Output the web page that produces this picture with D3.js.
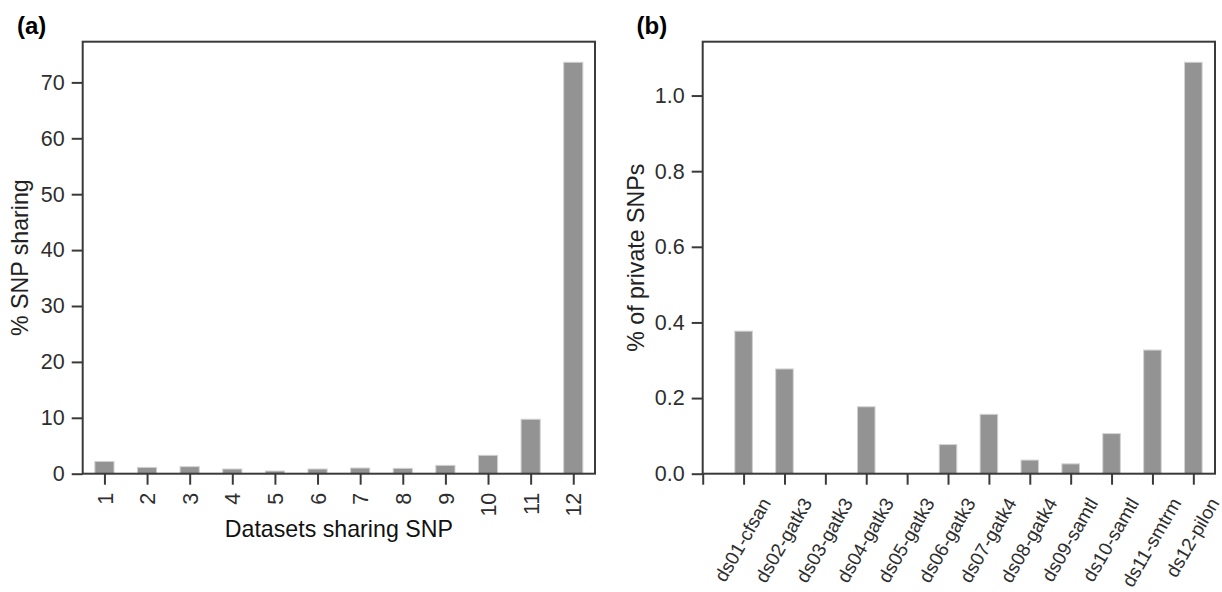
<!DOCTYPE html>
<html>
<head>
<meta charset="utf-8">
<script src="https://cdn.jsdelivr.net/npm/d3@7"></script>
<style>
  html, body { margin: 0; padding: 0; background: #fff; }
  svg { display: block; font-family: "Liberation Sans", Arial, Helvetica, sans-serif; }
</style>
</head>
<body>
<svg id="chart" width="1222" height="592"></svg>
<script>
// ---- Data ----
const sharingCategories = [1, 2, 3, 4, 5, 6, 7, 8, 9, 10, 11, 12];
const sharingValues = [2.2, 1.13, 1.26, 0.84, 0.48, 0.84, 1.02, 0.96, 1.49, 3.29, 9.74, 73.6];
const sharingYTicks = [0, 10, 20, 30, 40, 50, 60, 70];

const datasetNames = ["ds01-cfsan", "ds02-gatk3", "ds03-gatk3", "ds04-gatk3", "ds05-gatk3", "ds06-gatk3",
                      "ds07-gatk4", "ds08-gatk4", "ds09-samtl", "ds10-samtl", "ds11-smtrm", "ds12-pilon"];
const privateValues = [0.377, 0.277, 0, 0.177, 0, 0.077, 0.157, 0.036, 0.026, 0.106, 0.327, 1.088];
const privateYTicks = [0.0, 0.2, 0.4, 0.6, 0.8, 1.0];

// ---- Styling ----
const svg = d3.select("#chart");
const spineColor = "#3a3a3a";
const tickTextColor = "#2e2e2e";
const barFill = "#939393";
const barStroke = "#d2d2d2";
const tickFont = 21.5;
const labelFont = 23.2;

const plotTop = 41.7, plotBottom = 473.7;
const panelA = { left: 82.7, right: 595 };
const panelB = { left: 702.7, right: 1215 };

function frame(g, p) {
  g.append("rect")
    .attr("x", p.left).attr("y", plotTop)
    .attr("width", p.right - p.left).attr("height", plotBottom - plotTop)
    .attr("fill", "none").attr("stroke", spineColor).attr("stroke-width", 2);
}

function styleAxis(sel) {
  sel.select(".domain").remove();
  sel.selectAll(".tick line").attr("stroke", spineColor).attr("stroke-width", 2);
  sel.selectAll(".tick text").attr("fill", tickTextColor).style("font-size", tickFont + "px");
}

// ================= Panel (a) =================
const gA = svg.append("g");
const xA = d3.scaleLinear().domain([0.49, 12.51]).range([panelA.left, panelA.right]);
const yA = d3.scaleLinear().domain([0, d3.max(sharingValues) * 1.05]).range([plotBottom, plotTop]);
const barWA = (xA(1.45) - xA(1));

gA.selectAll("rect.bar").data(sharingValues).join("rect")
  .attr("class", "bar")
  .attr("x", (d, i) => xA(sharingCategories[i]) - barWA / 2)
  .attr("y", d => yA(d))
  .attr("width", barWA)
  .attr("height", d => yA(0) - yA(d))
  .attr("fill", barFill).attr("stroke", barStroke).attr("stroke-width", 1);

const yAxisA = gA.append("g").attr("transform", `translate(${panelA.left},0)`)
  .call(d3.axisLeft(yA).tickValues(sharingYTicks).tickFormat(d3.format("d")).tickSize(11).tickPadding(7));
styleAxis(yAxisA);

const xAxisA = gA.append("g").attr("transform", `translate(0,${plotBottom})`)
  .call(d3.axisBottom(xA).tickValues(sharingCategories).tickFormat(d3.format("d")).tickSize(11).tickPadding(0));
styleAxis(xAxisA);
xAxisA.selectAll(".tick text")
  .attr("text-anchor", "end")
  .attr("y", 0).attr("dy", 0)
  .attr("transform", "translate(7.7,19) rotate(-90)");

frame(gA, panelA);

gA.append("text")
  .attr("transform", `translate(28,${(plotTop + plotBottom) / 2}) rotate(-90)`)
  .attr("text-anchor", "middle")
  .style("font-size", labelFont + "px").attr("fill", "#222")
  .text("% SNP sharing");

gA.append("text")
  .attr("x", (panelA.left + panelA.right) / 2).attr("y", 537)
  .attr("text-anchor", "middle")
  .style("font-size", labelFont + "px").attr("fill", "#111")
  .text("Datasets sharing SNP");

gA.append("text")
  .attr("x", 17).attr("y", 33.5)
  .style("font-size", "24px").style("font-weight", "bold").attr("fill", "#000")
  .text("(a)");

// ================= Panel (b) =================
const gB = svg.append("g");
const xB = d3.scaleLinear().domain([0, 12.53]).range([panelB.left, panelB.right]);
const yB = d3.scaleLinear().domain([0, d3.max(privateValues) * 1.05]).range([plotBottom, plotTop]);
const barWB = (xB(0.43) - xB(0));

gB.selectAll("rect.bar").data(privateValues).join("rect")
  .attr("class", "bar")
  .attr("x", (d, i) => xB(i + 1) - barWB / 2)
  .attr("y", d => yB(d))
  .attr("width", barWB)
  .attr("height", d => yB(0) - yB(d))
  .attr("fill", barFill).attr("stroke", d => d > 0 ? barStroke : "none").attr("stroke-width", 1);

const yAxisB = gB.append("g").attr("transform", `translate(${panelB.left},0)`)
  .call(d3.axisLeft(yB).tickValues(privateYTicks).tickFormat(d3.format(".1f")).tickSize(11).tickPadding(7));
styleAxis(yAxisB);

const xAxisB = gB.append("g").attr("transform", `translate(0,${plotBottom})`)
  .call(d3.axisBottom(xB).tickValues(d3.range(0, datasetNames.length + 1))
    .tickFormat(i => i === 0 ? "" : datasetNames[i - 1]).tickSize(11).tickPadding(0));
styleAxis(xAxisB);
const bTickFont = 19;
const ang = 60 * Math.PI / 180;
xAxisB.selectAll(".tick text")
  .style("font-size", bTickFont + "px")
  .attr("text-anchor", "middle")
  .attr("y", 0).attr("dy", "0.35em")
  .each(function () {
    const L = this.getComputedTextLength();
    const h = 0.73 * bTickFont;
    const H = L * Math.sin(ang) + h * Math.cos(ang);
    const topY = 496 - plotBottom;
    d3.select(this).attr("transform", `translate(-1.5,${topY + H / 2}) rotate(-60)`);
  });

frame(gB, panelB);

gB.append("text")
  .attr("transform", `translate(644,${(plotTop + plotBottom) / 2}) rotate(-90)`)
  .attr("text-anchor", "middle")
  .style("font-size", labelFont + "px").attr("fill", "#222")
  .text("% of private SNPs");

gB.append("text")
  .attr("x", 636.5).attr("y", 33.5)
  .style("font-size", "24px").style("font-weight", "bold").attr("fill", "#000")
  .text("(b)");
</script>
</body>
</html>
